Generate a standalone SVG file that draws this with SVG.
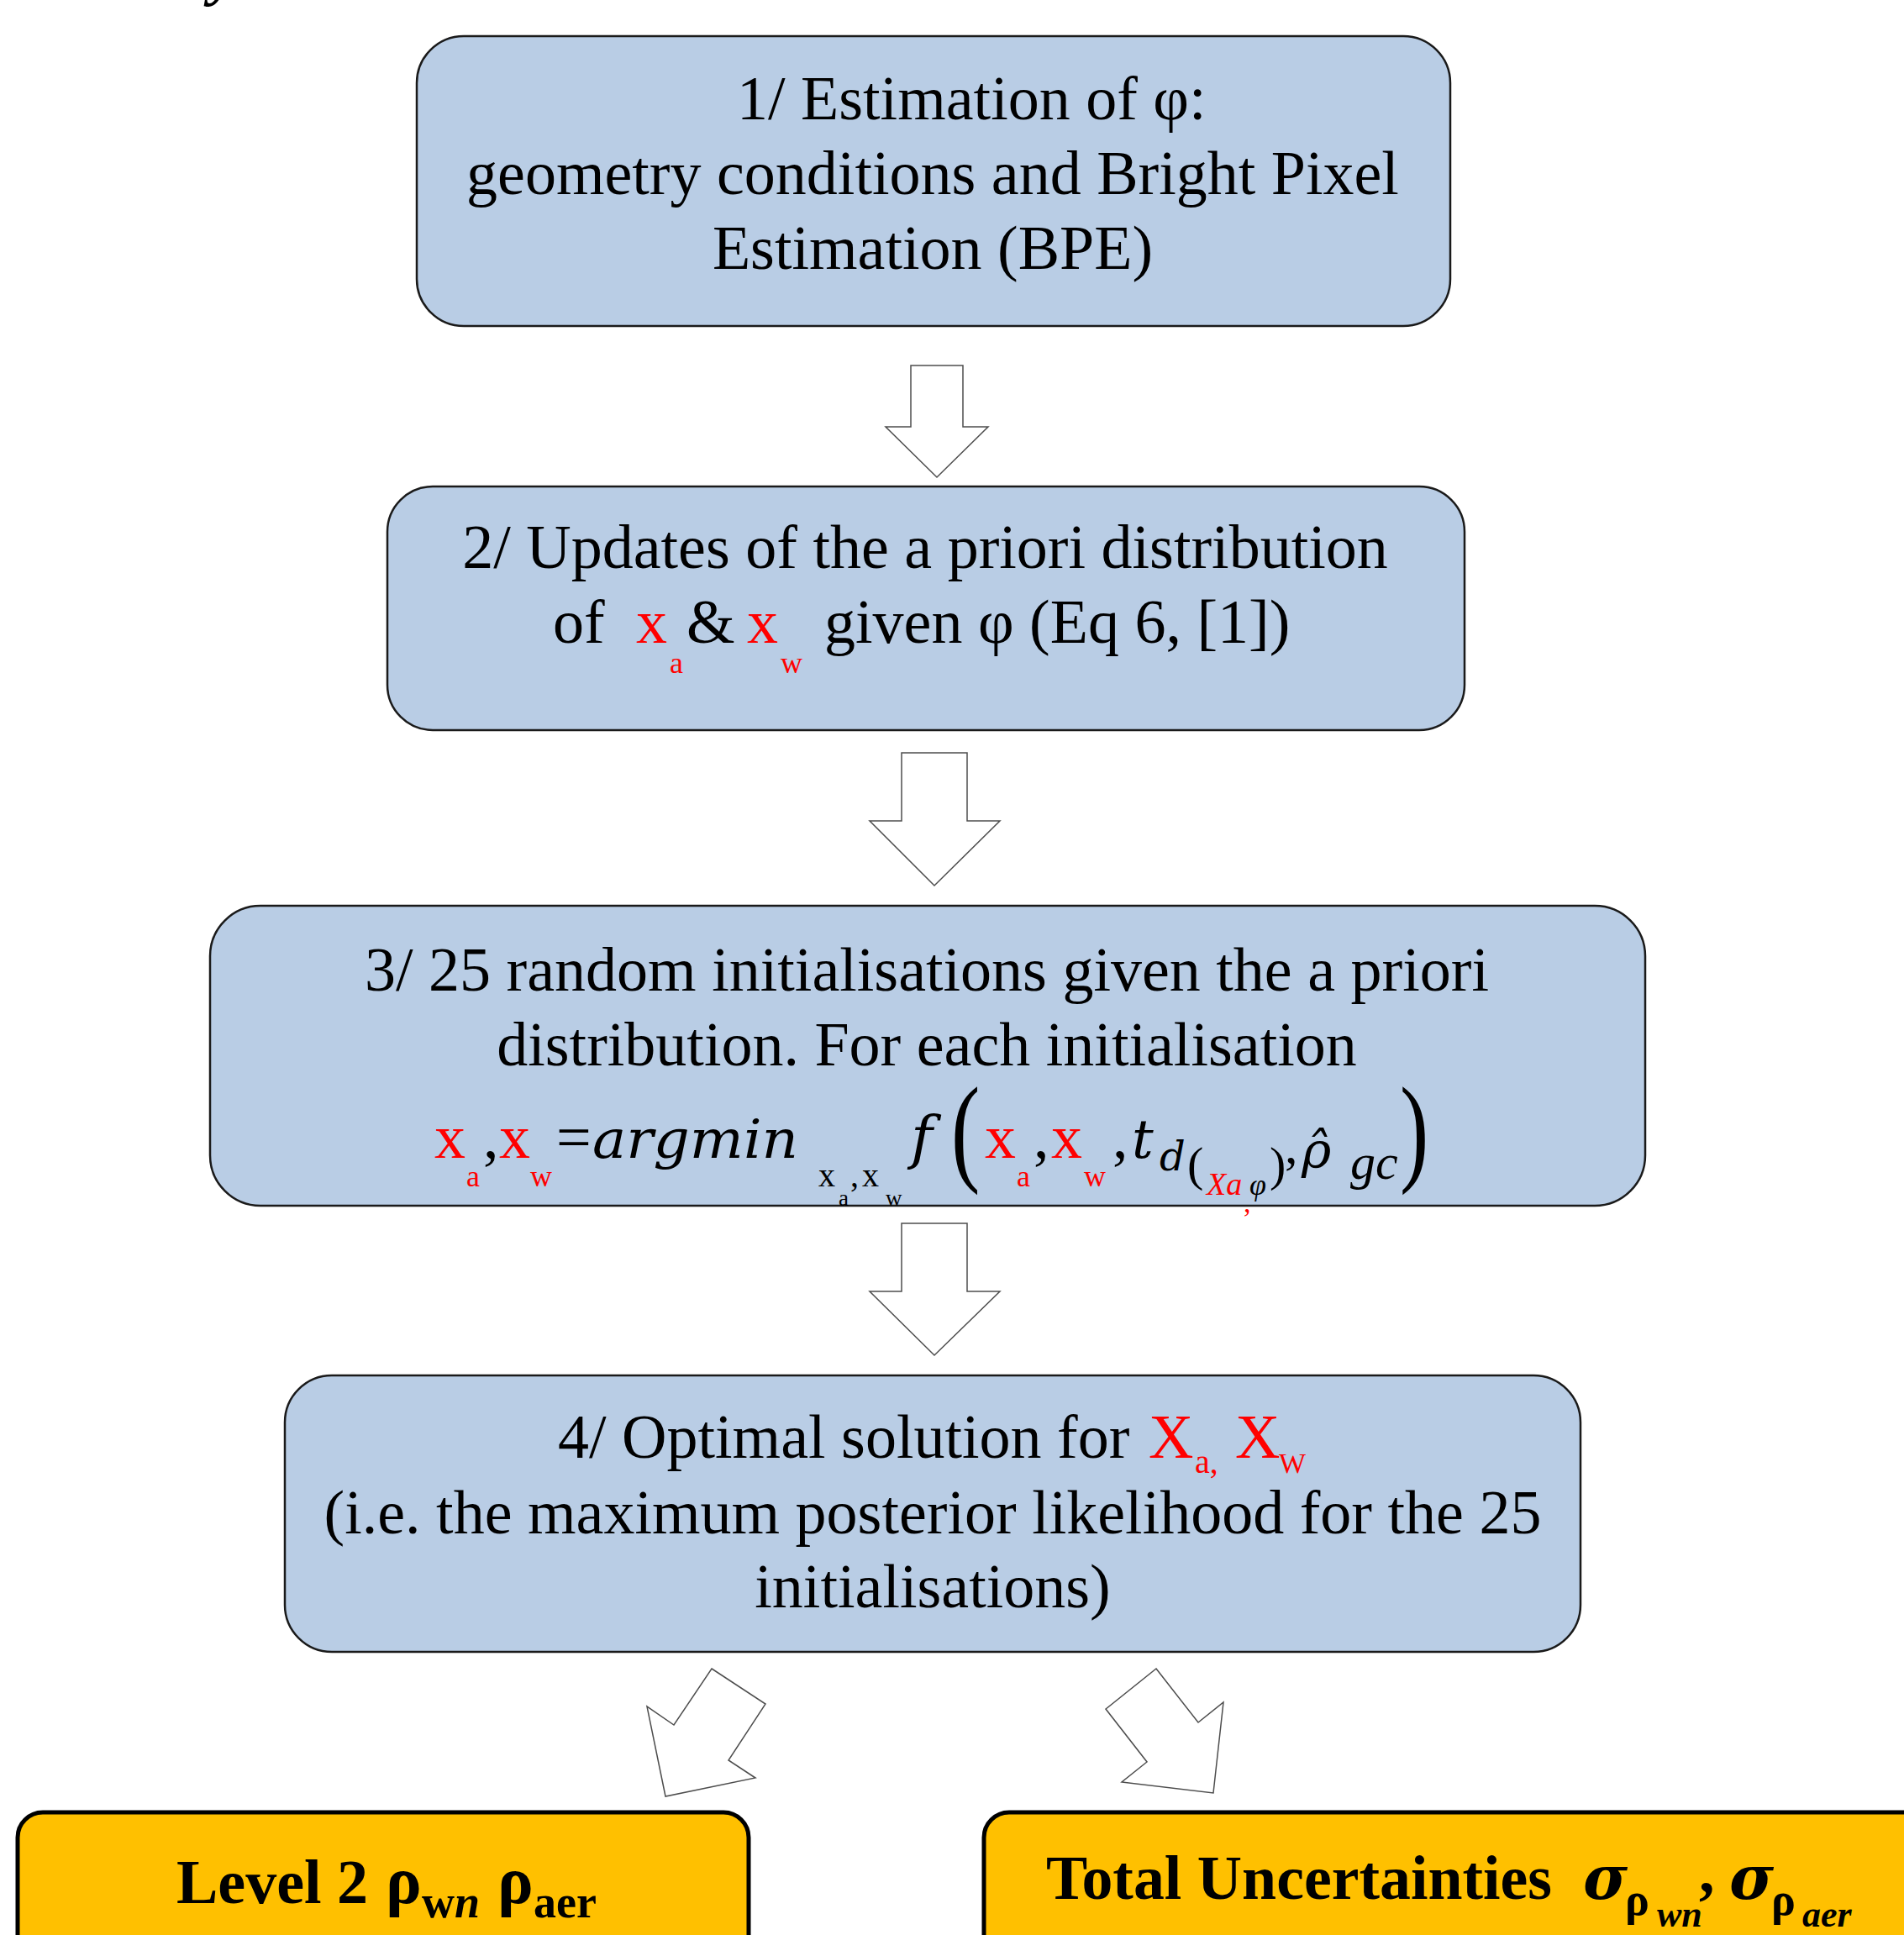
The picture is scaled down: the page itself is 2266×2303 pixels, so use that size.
<svg xmlns="http://www.w3.org/2000/svg" width="2266" height="2303" viewBox="0 0 2266 2303">
<style>
text{font-family:"Liberation Serif","Times New Roman",serif;fill:#000}
.t{font-size:74px}
.m{text-anchor:middle}
.r{fill:#FF0000}
.s{font-size:36px}
.i{font-style:italic}
.b{font-weight:bold}
.dj{font-family:"DejaVu Serif",serif}
.box{fill:#B9CDE5;stroke:#1a1a1a;stroke-width:2.5}
.out{fill:#FFC000;stroke:#000;stroke-width:5}
.arr{fill:#fff;stroke:#4d4d4d;stroke-width:1.5;stroke-linejoin:miter}
</style>
<rect width="2266" height="2303" fill="#fff"/>
<text x="250" y="-8" class="t b i">y</text>

<g id="connectors">
<polygon class="arr" points="1084,435 1146,435 1146,508 1176,508 1115,568 1054,508 1084,508"/>
<polygon class="arr" points="1073,896 1151,896 1151,977 1190,977 1112,1054 1035,977 1073,977"/>
<polygon class="arr" points="1073,1456 1151,1456 1151,1537 1190,1537 1112,1613 1035,1537 1073,1537"/>
<polygon class="arr" points="847,1986 911,2028 867,2095 899,2116 792,2138 770,2031 802,2053"/>
<polygon class="arr" points="1376,1986 1426,2050 1456,2026 1444,2134 1335,2121 1365,2097 1316,2034"/>
</g>

<g id="node1">
<rect class="box" x="496" y="43" width="1230" height="345" rx="56" ry="56"/>
<text class="t" x="877" y="142">1/ Estimation of φ:</text>
<text class="t m" x="1110" y="231">geometry conditions and Bright Pixel</text>
<text class="t m" x="1110" y="320">Estimation (BPE)</text>
</g>

<g id="node2">
<rect class="box" x="461" y="579" width="1282" height="290" rx="54" ry="54"/>
<text class="t m" x="1101" y="676">2/ Updates of the a priori distribution</text>
<text class="t" x="658" y="765">of</text>
<text class="t r" x="757" y="765">x</text>
<text class="s r" x="797" y="801">a</text>
<text class="t" x="817" y="765">&amp;</text>
<text class="t r" x="889" y="765">x</text>
<text class="s r" x="929" y="801">w</text>
<text class="t" x="981" y="765">given φ (Eq 6, [1])</text>
</g>

<g id="node3">
<rect class="box" x="250" y="1078" width="1708" height="357" rx="60" ry="60"/>
<text class="t m" x="1103" y="1179">3/ 25 random initialisations given the a priori</text>
<text class="t m" x="1103" y="1268">distribution. For each initialisation</text>
<text class="t r" x="517" y="1378">x</text>
<text class="s r" x="555" y="1412">a</text>
<text class="t" x="575" y="1378">,</text>
<text class="t r" x="594" y="1378">x</text>
<text class="s r" x="631" y="1412">w</text>
<text class="t" x="662" y="1378">=</text>
<text class="dj i" x="705" y="1378" style="font-size:64px" textLength="245" lengthAdjust="spacingAndGlyphs">argmin</text>
<text x="974" y="1412" style="font-size:40px">x</text>
<text x="998" y="1435" style="font-size:27px">a</text>
<text x="1012" y="1412" style="font-size:40px">,</text>
<text x="1026" y="1412" style="font-size:40px">x</text>
<text x="1054" y="1435" style="font-size:27px">w</text>
<text class="dj i" x="1084" y="1378" style="font-size:70px">f</text>
<text x="0" y="0" style="font-size:143px" transform="translate(1132,1392) scale(0.72,1)">(</text>
<text class="t r" x="1172" y="1378">x</text>
<text class="s r" x="1210" y="1412">a</text>
<text class="t" x="1230" y="1378">,</text>
<text class="t r" x="1251" y="1378">x</text>
<text class="s r" x="1290" y="1412">w</text>
<text class="t" x="1324" y="1378">,</text>
<text class="dj i" x="1347" y="1378" style="font-size:64px">t</text>
<text class="dj i" x="1380" y="1393" style="font-size:48px">d</text>
<text x="1413" y="1405" style="font-size:58px">(</text>
<text class="i r" x="1436" y="1422" style="font-size:38px">Xa</text>
<text class="i" x="1487" y="1422" style="font-size:36px">φ</text>
<text class="r" x="1480" y="1443" style="font-size:34px">,</text>
<text x="1511" y="1405" style="font-size:58px">)</text>
<text x="1529" y="1384" style="font-size:62px">,</text>
<text class="dj i" x="1549" y="1390" style="font-size:60px">ρ̂</text>
<text class="i" x="1607" y="1403" style="font-size:60px">gc</text>
<text x="0" y="0" style="font-size:143px" transform="translate(1666,1392) scale(0.72,1)">)</text>
</g>

<g id="node4">
<rect class="box" x="339" y="1637" width="1542" height="329" rx="56" ry="56"/>
<text class="t" x="664" y="1735">4/ Optimal solution for</text>
<text class="t r" x="1367" y="1735">X</text>
<text class="r" x="1422" y="1753" style="font-size:40px">a,</text>
<text class="t r" x="1470" y="1735">X</text>
<text class="r" x="1522" y="1753" style="font-size:34px">W</text>
<text class="t m" x="1110" y="1825">(i.e. the maximum posterior likelihood for the 25</text>
<text class="t m" x="1110" y="1913">initialisations)</text>
</g>

<g id="node5">
<rect class="out" x="21" y="2157" width="870" height="220" rx="30" ry="30"/>
<text class="t b" x="210" y="2265">Level 2</text>
<text class="b" x="459" y="2265" style="font-size:80px">ρ</text>
<text class="b" x="502" y="2282" style="font-size:54px">w<tspan class="i">n</tspan></text>
<text class="b" x="592" y="2265" style="font-size:80px">ρ</text>
<text class="b" x="635" y="2282" style="font-size:54px">aer</text>
</g>

<g id="node6">
<rect class="out" x="1171" y="2157" width="1200" height="220" rx="30" ry="30"/>
<text class="t b" x="1245" y="2260" textLength="602" lengthAdjust="spacingAndGlyphs">Total Uncertainties</text>
<text class="dj b i" x="1884" y="2260" style="font-size:72px">σ</text>
<text class="b" x="1934" y="2279" style="font-size:54px">ρ</text>
<text class="b i" x="1972" y="2293" style="font-size:44px">wn</text>
<text class="b" x="2022" y="2252" style="font-size:74px">,</text>
<text class="dj b i" x="2058" y="2260" style="font-size:72px">σ</text>
<text class="b" x="2108" y="2279" style="font-size:54px">ρ</text>
<text class="b i" x="2145" y="2293" style="font-size:44px">aer</text>
</g>
</svg>
